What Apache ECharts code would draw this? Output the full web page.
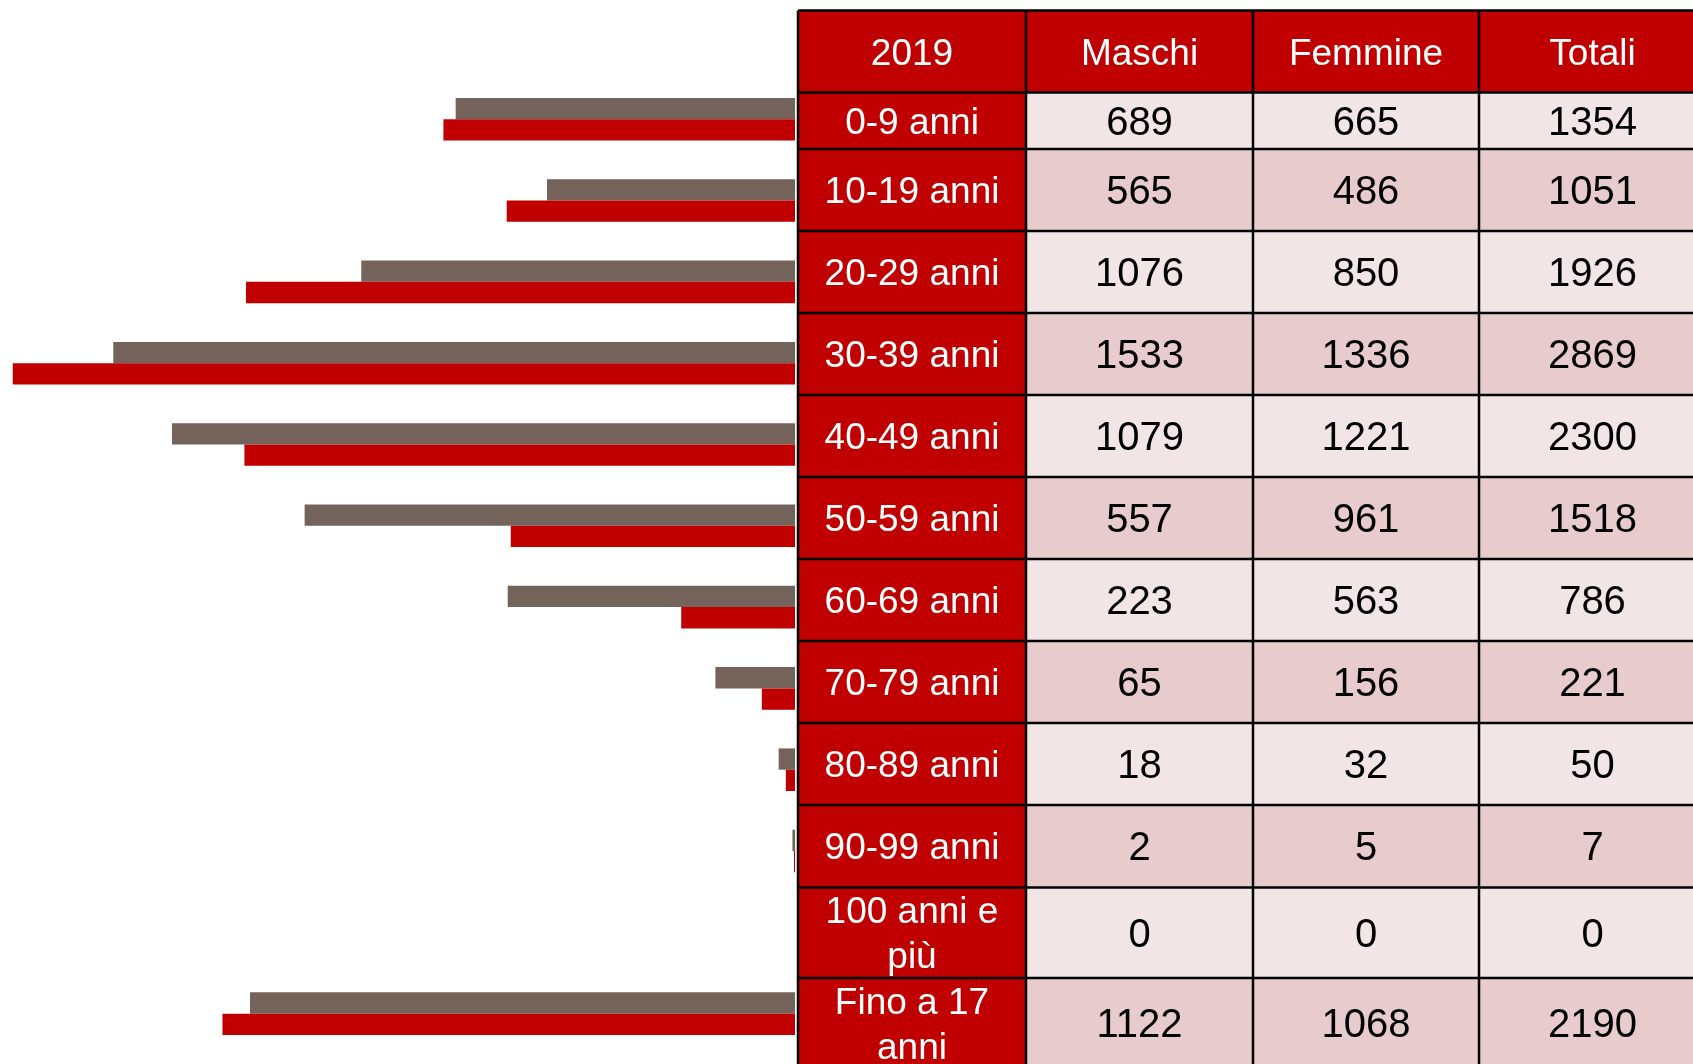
<!DOCTYPE html>
<html>
<head>
<meta charset="utf-8">
<title>Popolazione 2019 per fasce d'età</title>
<script src="https://cdn.jsdelivr.net/npm/echarts@6/dist/echarts.min.js"></script>
<style>
  html, body { margin: 0; padding: 0; background: #fff; }
  #mychart { width: 1693px; height: 1064px; }
</style>
</head>
<body>
<div id="mychart"></div>
<script>
// dati 2019
const anno = '2019';
const intestazioni = ['Maschi', 'Femmine', 'Totali'];
const fasce = ['0-9 anni', '10-19 anni', '20-29 anni', '30-39 anni', '40-49 anni', '50-59 anni',
  '60-69 anni', '70-79 anni', '80-89 anni', '90-99 anni', '100 anni e più', 'Fino a 17 anni'];
const etichette = ['0-9 anni', '10-19 anni', '20-29 anni', '30-39 anni', '40-49 anni', '50-59 anni',
  '60-69 anni', '70-79 anni', '80-89 anni', '90-99 anni', '100 anni e\npiù', 'Fino a 17\nanni'];
const maschi = [689, 565, 1076, 1533, 1079, 557, 223, 65, 18, 2, 0, 1122];
const femmine = [665, 486, 850, 1336, 1221, 961, 563, 156, 32, 5, 0, 1068];
const totali = [1354, 1051, 1926, 2869, 2300, 1518, 786, 221, 50, 7, 0, 2190];

// griglia della tabella (pixel)
const colX = [798, 1026, 1253, 1479, 1706];
const rowY = [10.5, 92.5, 149, 231, 313, 395, 477, 559, 641, 723, 805, 887.5, 978, 1068];

const ROSSO = '#C00000';
const GRIGIO = '#74635A';
const CHIARO = '#F2E5E6';
const SCURO = '#E8CBCC';
const FONT = 'Liberation Sans, Arial, sans-serif';

function cella(x0, x1, y0, y1, fill) {
  return { type: 'rect', silent: true, shape: { x: x0, y: y0, width: x1 - x0, height: y1 - y0 }, style: { fill: fill } };
}
function testo(x0, x1, y0, y1, txt, color, size) {
  return {
    type: 'text', silent: true, z: 10,
    style: {
      text: txt, x: (x0 + x1) / 2, y: (y0 + y1) / 2 + 3,
      align: 'center', verticalAlign: 'middle',
      fill: color, font: size + 'px ' + FONT, lineHeight: 45
    }
  };
}

let elementi = [];
// intestazione
let testa = [anno].concat(intestazioni);
for (let c = 0; c < 4; c++) {
  elementi.push(cella(colX[c], colX[c + 1], rowY[0], rowY[1], ROSSO));
  elementi.push(testo(colX[c], colX[c + 1], rowY[0], rowY[1], testa[c], '#fff', 37));
}
// righe dati
for (let i = 0; i < fasce.length; i++) {
  let y0 = rowY[i + 1], y1 = rowY[i + 2];
  let fondo = i % 2 === 0 ? CHIARO : SCURO;
  let valori = [maschi[i], femmine[i], totali[i]];
  elementi.push(cella(colX[0], colX[1], y0, y1, ROSSO));
  elementi.push(testo(colX[0], colX[1], y0, y1, etichette[i], '#fff', 37));
  for (let c = 0; c < 3; c++) {
    elementi.push(cella(colX[c + 1], colX[c + 2], y0, y1, fondo));
    elementi.push(testo(colX[c + 1], colX[c + 2], y0, y1, String(valori[c]), '#000', 40));
  }
}
// bordi
rowY.forEach(y => {
  elementi.push({ type: 'line', silent: true, z: 5, shape: { x1: colX[0], y1: y, x2: colX[4], y2: y }, style: { stroke: '#000', lineWidth: 2.5 } });
});
colX.forEach(x => {
  elementi.push({ type: 'line', silent: true, z: 5, shape: { x1: x, y1: rowY[0], x2: x, y2: rowY[rowY.length - 1] }, style: { stroke: '#000', lineWidth: 2.5 } });
});

let myChart = echarts.init(document.getElementById('mychart'));
let option = {
  backgroundColor: '#fff',
  animation: false,
  grid: { left: 0, right: 898, top: 78.6, bottom: 9.7 },
  xAxis: { type: 'value', inverse: true, min: 0, max: 1558, show: false },
  yAxis: { type: 'category', data: fasce, inverse: true, show: false },
  series: [
    { name: 'Femmine', type: 'bar', data: femmine, barWidth: 21.3, barGap: '0%', itemStyle: { color: GRIGIO } },
    { name: 'Maschi', type: 'bar', data: maschi, barWidth: 21.3, barGap: '0%', itemStyle: { color: ROSSO } }
  ],
  graphic: elementi
};
myChart.setOption(option, true);
</script>
</body>
</html>
